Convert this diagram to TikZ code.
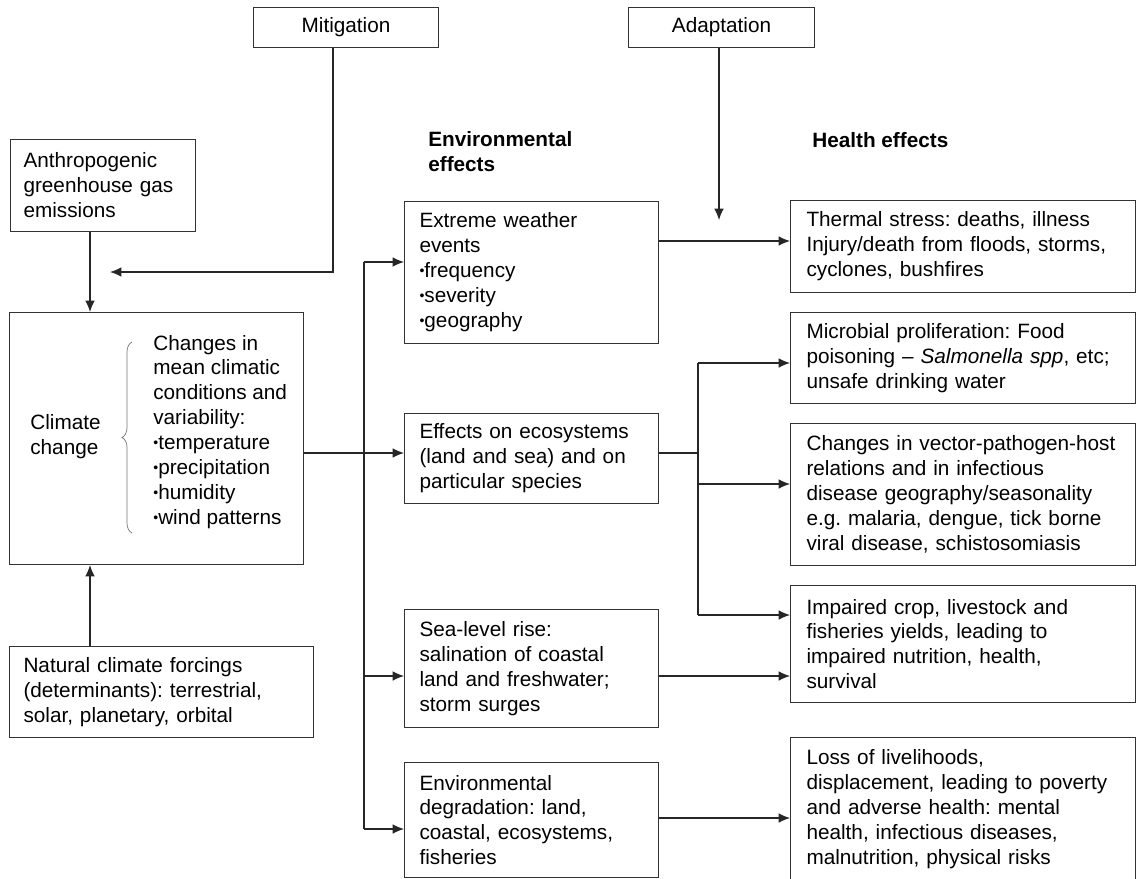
\documentclass[tikz,border=0pt]{standalone}
\usepackage{fontspec}
\setmainfont{Liberation Sans}
\usetikzlibrary{arrows.meta,decorations.pathreplacing}
\frenchspacing
\newcommand{\pallino}{\raisebox{0.22ex}{\fontsize{8}{8}\selectfont\textbullet}}

\begin{document}
\begin{tikzpicture}[x=0.02cm, y=-0.02cm,
    every node/.style={font=\fontsize{11.8}{14.2}\selectfont},
    box/.style={draw=black!80, line width=0.6pt, anchor=north west, align=left,
      inner xsep=0.3cm, inner ysep=0pt},
    envbox/.style={box, text width=4.48cm, inner xsep=0.3cm},
    healthbox/.style={box, text width=6.26cm, inner xsep=0.32cm},
    topbox/.style={box, align=center, minimum height=0.8cm},
    head/.style={anchor=west, align=left, inner sep=0pt, font=\fontsize{11.8}{14.2}\selectfont\bfseries},
    conn/.style={draw=black!85, line width=0.6pt, -{Latex[length=6.5pt,width=5.5pt]}},
    wire/.style={draw=black!85, line width=0.6pt}]
    \useasboundingbox (0,0) rectangle (1136,879);

    % Riquadri in alto
    \node[topbox, minimum width=3.7cm] (mitig) at (253,7) {Mitigation};
    \node[topbox, minimum width=3.72cm] (adapt) at (628,7) {Adaptation};

    % Colonna di sinistra
    \node[box, text width=3.18cm, inner xsep=0.26cm, minimum height=1.84cm] (anthro) at (10,139)
      {Anthropogenic\\greenhouse gas\\emissions};
    \node[box, minimum width=5.88cm, minimum height=5.04cm] (climate) at (9,312) {};
    \node[anchor=west, align=left, inner sep=0pt] (cclabel) at (30,437) {Climate\\change};
    \node[anchor=west, align=left, inner sep=0pt] (cclist) at (153,432)
      {Changes in\\mean climatic\\conditions and\\variability:\\\pallino temperature\\
       \pallino precipitation\\\pallino humidity\\\pallino wind patterns};
    \draw[black!55, line width=0.4pt, decorate, decoration={brace, amplitude=0.2cm}]
      (132,533) -- (132,342);
    \node[box, text width=5.52cm, inner xsep=0.28cm, minimum height=1.82cm] (natural) at (9,646)
      {Natural climate forcings\\(determinants): terrestrial,\\solar, planetary, orbital};

    % Titoli
    \node[head] (envhead) at (428,152) {Environmental\\effects};
    \node[head] (healthhead) at (812,140) {Health effects};

    % Effetti ambientali
    \node[envbox, minimum height=2.84cm] (ext) at (404,201)
      {Extreme weather\\events\\\pallino frequency\\\pallino severity\\\pallino geography};
    \node[envbox, minimum height=1.8cm] (eco) at (404,413)
      {Effects on ecosystems\\(land and sea) and on\\particular species};
    \node[envbox, minimum height=2.36cm] (sea) at (404,609)
      {Sea-level rise:\\salination of coastal\\land and freshwater;\\storm surges};
    \node[envbox, minimum height=2.3cm] (degr) at (404,762)
      {Environmental\\degradation: land,\\coastal, ecosystems,\\fisheries};

    % Effetti sulla salute
    \node[healthbox, minimum height=1.84cm] (thermal) at (790,200)
      {Thermal stress: deaths, illness\\Injury/death from floods, storms,\\cyclones, bushfires};
    \node[healthbox, minimum height=1.82cm] (micro) at (790,312)
      {Microbial proliferation: Food\\poisoning \textendash{} \textit{Salmonella spp}, etc;\\unsafe drinking water};
    \node[healthbox, minimum height=2.84cm] (vector) at (790,423)
      {Changes in vector-pathogen-host\\relations and in infectious\\disease geography/seasonality\\
       e.g. malaria, dengue, tick borne\\viral disease, schistosomiasis};
    \node[healthbox, minimum height=2.34cm] (crop) at (790,585)
      {Impaired crop, livestock and\\fisheries yields, leading to\\impaired nutrition, health,\\survival};
    \node[healthbox, minimum height=2.86cm] (loss) at (790,737)
      {Loss of livelihoods,\\displacement, leading to poverty\\and adverse health: mental\\
       health, infectious diseases,\\malnutrition, physical risks};

    % Punti di snodo
    \coordinate (mitbend) at (333,272);
    \coordinate (mitend) at (110,272);
    \coordinate (adaend) at (719,220);
    \coordinate (ccx) at (90,0);
    \coordinate (busa) at (364,262);
    \coordinate (busb) at (364,453);
    \coordinate (busc) at (364,676);
    \coordinate (busd) at (364,829);
    \coordinate (hbusa) at (698,363);
    \coordinate (hbusb) at (698,484);
    \coordinate (hbusc) at (698,615);
    \coordinate (rowa) at (700,241);
    \coordinate (rowe) at (700,818);

    % Frecce a sinistra
    \draw[conn] (mitig.south -| mitbend) -- (mitbend) -- (mitend);
    \draw[conn] (adapt.south -| adaend) -- (adaend);
    \draw[conn] (anthro.south -| ccx) -- (climate.north -| ccx);
    \draw[conn] (natural.north -| ccx) -- (climate.south -| ccx);

    % Collettore degli effetti ambientali
    \draw[wire] (busa) -- (busd);
    \draw[conn] (climate.east |- busb) -- (eco.west |- busb);
    \foreach \b/\t in {busa/ext, busc/sea, busd/degr}
      \draw[conn] (\b) -- (\t.west |- \b);

    % Collettore degli effetti sulla salute
    \draw[wire] (eco.east |- busb) -- (hbusa |- busb);
    \draw[wire] (hbusa) -- (hbusc);
    \foreach \b/\t in {hbusa/micro, hbusb/vector, hbusc/crop}
      \draw[conn] (\b) -- (\t.west |- \b);
    \draw[conn] (ext.east |- rowa) -- (thermal.west |- rowa);
    \draw[conn] (sea.east |- busc) -- (crop.west |- busc);
    \draw[conn] (degr.east |- rowe) -- (loss.west |- rowe);
  \end{tikzpicture}
\end{document}
